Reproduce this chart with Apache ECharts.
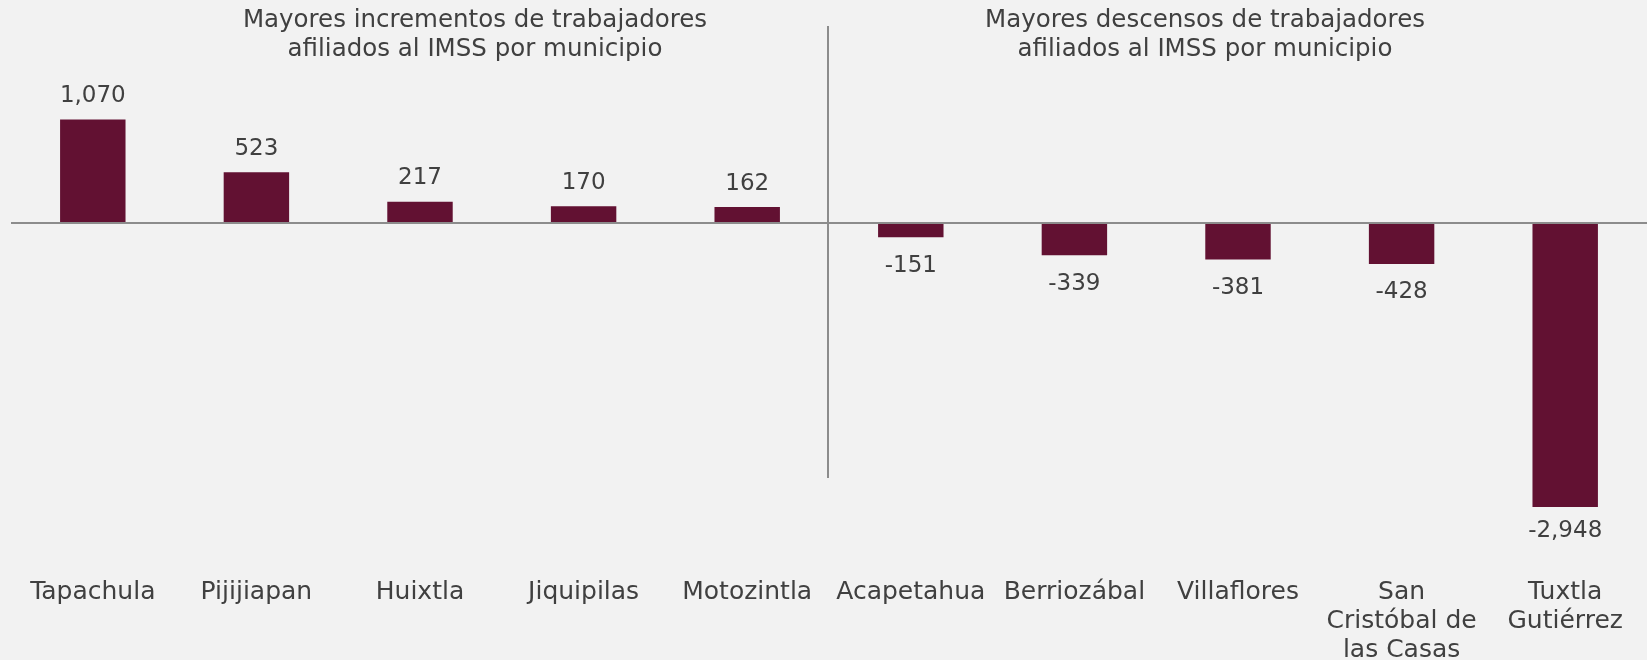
<!DOCTYPE html>
<html>
<head>
<meta charset="utf-8">
<title>Trabajadores afiliados al IMSS por municipio</title>
<script src="https://cdn.jsdelivr.net/npm/echarts@6/dist/echarts.min.js"></script>
<style>
    html, body { margin: 0; padding: 0; background: #f2f2f2; }
    #chart { width: 1647px; height: 660px; }
</style>
</head>
<body>
<div id="chart"></div>
<script>
    // municipios y cambio en trabajadores afiliados
    var municipios = ['Tapachula', 'Pijijiapan', 'Huixtla', 'Jiquipilas', 'Motozintla',
        'Acapetahua', 'Berriozábal', 'Villaflores', 'San\nCristóbal de\nlas Casas', 'Tuxtla\nGutiérrez'];
    var cambios = [1070, 523, 217, 170, 162, -151, -339, -381, -428, -2948];
    var titulos = ['Mayores incrementos de trabajadores\nafiliados al IMSS por municipio',
        'Mayores descensos de trabajadores\nafiliados al IMSS por municipio'];

    var fuente = '"DejaVu Sans", sans-serif';
    var gris = '#404040';
    var chart = echarts.init(document.getElementById('chart'));

    var minVal = Math.min.apply(null, cambios);
    var datos = cambios.map(function (v) {
        var d = { value: v };
        if (v === minVal) {
            d.label = { distance: 13 };
        } else if (v < 0) {
            d.label = { distance: 17 };
        }
        return d;
    });

    var estiloTitulo = { fontFamily: fuente, fontSize: 24.5, lineHeight: 29, fontWeight: 'normal', color: gris };

    var option = {
        backgroundColor: '#f2f2f2',
        animation: false,
        title: [
            { text: titulos[0], left: 470, top: 1, textAlign: 'center', textStyle: estiloTitulo },
            { text: titulos[1], left: 1200, top: 1, textAlign: 'center', textStyle: estiloTitulo }
        ],
        grid: { left: 11, right: 0, top: 78, bottom: 148, outerBoundsMode: 'none' },
        xAxis: {
            type: 'category',
            data: municipios,
            axisLine: { show: false, onZero: false },
            axisTick: { show: false },
            axisLabel: {
                interval: 0,
                margin: 66,
                fontFamily: fuente,
                fontSize: 25,
                lineHeight: 29,
                color: gris
            }
        },
        yAxis: {
            type: 'value',
            min: -3000,
            max: 1500,
            show: false,
            splitLine: { show: false }
        },
        series: [{
            type: 'bar',
            data: datos,
            barWidth: '40%',
            itemStyle: { color: '#621132' },
            label: {
                show: true,
                fontFamily: fuente,
                fontSize: 23,
                color: gris,
                position: 'outside',
                distance: 12,
                formatter: function (p) {
                    return echarts.format.addCommas(p.value);
                }
            },
            markLine: {
                silent: true,
                symbol: 'none',
                label: { show: false },
                lineStyle: { color: '#8c8c8c', width: 2, type: 'solid' },
                data: [{ yAxis: 0 }]
            }
        }],
        graphic: [{
            type: 'line',
            shape: { x1: 828, y1: 26, x2: 828, y2: 478 },
            style: { stroke: '#8c8c8c', lineWidth: 2 }
        }]
    };

    chart.setOption(option);
    window.addEventListener('resize', function () {
        chart.resize();
    });
</script>
</body>
</html>
